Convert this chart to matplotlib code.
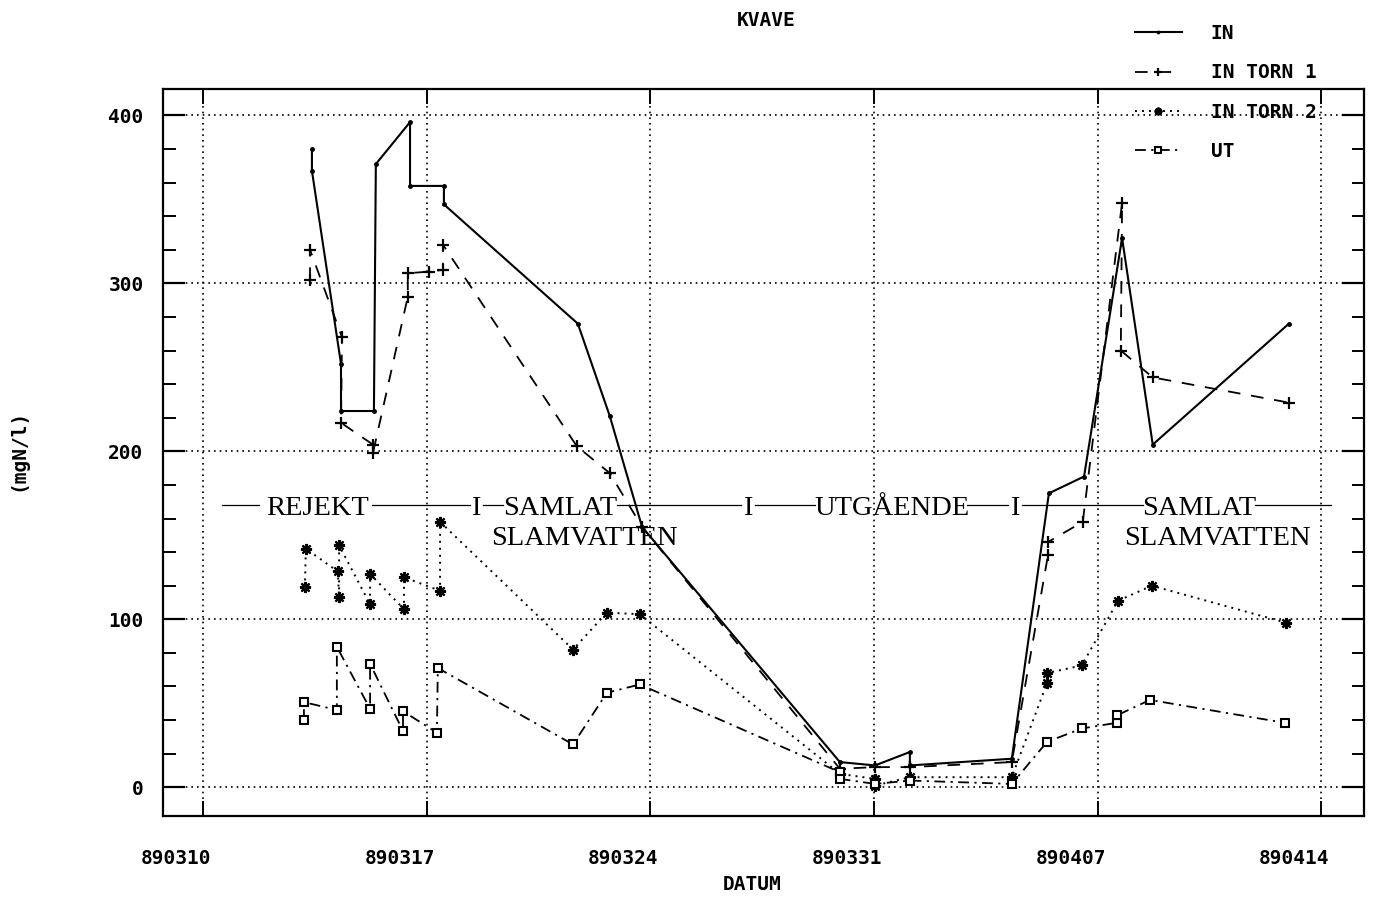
import matplotlib
matplotlib.use("Agg")
import matplotlib.pyplot as plt
import matplotlib.transforms as mtransforms
from matplotlib.ticker import MultipleLocator, FixedLocator

# Days counted from 890310
in_days = [3.41, 3.41, 4.32, 4.32, 5.35, 5.41, 6.48, 6.48, 7.54, 7.54, 11.73, 12.73,
           13.74, 19.93, 21.03, 22.12, 22.12, 25.31, 26.47, 27.57, 28.76, 29.72, 33.98]
in_vals = [380, 367, 252, 224, 224, 371, 396, 358, 358, 347, 276, 221,
           155, 15, 13, 21, 13, 17, 175, 185, 327, 204, 276]

torn1_days = [3.35, 3.35, 4.35, 4.32, 5.32, 5.32, 6.41, 6.41, 7.07, 7.51, 7.51,
              11.70, 12.73, 13.74, 19.93, 21.03, 22.12, 25.31, 26.44, 26.44, 27.53,
              28.76, 28.72, 29.72, 33.98]
torn1_vals = [302, 320, 268, 217, 204, 199, 292, 306, 307, 308, 323,
              203, 187, 155, 11, 12, 12, 15, 138, 146, 158,
              348, 260, 244, 229]

torn2_days = [3.19, 3.22, 4.22, 4.26, 4.26, 5.23, 5.23, 6.29, 6.29, 7.42, 7.42,
              11.58, 12.64, 13.67, 19.93, 21.03, 21.03, 22.12, 25.31, 26.41, 26.41,
              27.50, 28.63, 29.69, 33.89]
torn2_vals = [119, 142, 128.5, 113, 144, 109, 127, 106, 125, 117, 158,
              82, 104, 103, 8, 5, 1, 6, 6, 62, 68,
              72.5, 111, 120, 98]

ut_days = [3.16, 3.16, 4.19, 4.19, 5.23, 5.23, 6.26, 6.26, 7.32, 7.35,
           11.58, 12.64, 13.67, 19.93, 19.93, 21.03, 22.12, 25.31, 26.41, 27.50,
           28.60, 28.60, 29.63, 33.85]
ut_vals = [40, 50.7, 46, 83.6, 46.7, 73.5, 33.5, 45.3, 32.5, 71,
           25.5, 56.3, 61.2, 9, 5, 2, 4, 2, 27, 35,
           38.4, 42.8, 52, 38.4]

tick_days = [0, 7, 14, 21, 28, 35]
tick_labels = ["890310", "890317", "890324", "890331", "890407", "890414"]
y_ticks = [0, 100, 200, 300, 400]

MONO = "DejaVu Sans Mono"
SERIF = "Liberation Serif"

fig = plt.figure(figsize=(13.74, 8.98), dpi=100)
ax = fig.add_axes([163 / 1374, 1 - 816 / 898, (1364 - 163) / 1374, (816 - 89) / 898])

ax.set_xlim(-1.25, 36.33)
ax.set_ylim(-17.1, 415.7)

ax.plot(in_days, in_vals, color="black", lw=1.5, ls="-",
        marker="o", ms=2.5, label="IN", zorder=4)
ax.plot(torn1_days, torn1_vals, color="black", lw=1.3, ls=(0, (7, 6)),
        marker="+", ms=9, mew=1.6, label="IN TORN 1", zorder=4)
ax.plot(torn2_days, torn2_vals, color="black", lw=1.4, ls=(0, (1, 2.6)),
        marker=(8, 2, 0), ms=8, mew=1.6, label="IN TORN 2", zorder=4)
ax.plot(ut_days, ut_vals, color="black", lw=1.3, ls=(0, (6, 3, 1.2, 3)),
        marker="s", ms=6, mfc="white", mec="black", mew=1.5,
        label="UT", zorder=4)

# Axes frame, ticks and grid
for s in ax.spines.values():
    s.set_linewidth(1.6)
    s.set_color("black")

ax.xaxis.set_major_locator(FixedLocator(tick_days))
ax.set_xticklabels(tick_labels)
ax.yaxis.set_major_locator(FixedLocator(y_ticks))
ax.yaxis.set_minor_locator(MultipleLocator(20))
ax.tick_params(axis="x", which="major", direction="in", length=11, width=1.4,
               top=True, bottom=True, pad=24)
ax.tick_params(axis="y", which="major", direction="in", length=16, width=1.6,
               left=True, right=True, pad=14)
ax.tick_params(axis="y", which="minor", direction="in", length=9, width=1.4,
               left=True, right=True)
for lab in ax.get_xticklabels() + ax.get_yticklabels():
    lab.set_fontfamily(MONO)
    lab.set_fontweight("bold")
    lab.set_fontsize(14)

# shift date labels slightly to the left of their grid lines
shift = mtransforms.ScaledTranslation(-27 / 100, 0, fig.dpi_scale_trans)
for lab in ax.get_xticklabels():
    lab.set_transform(lab.get_transform() + shift)

ax.grid(True, which="major", color="black", lw=1.2, ls=(0, (1, 2.4)))
ax.set_axisbelow(True)

# Titles
fig.text(766 / 1374, 1 - 20 / 898, "KVAVE", ha="center", va="center",
         family=MONO, fontweight="bold", fontsize=14)
fig.text(752 / 1374, 1 - 885 / 898, "DATUM", ha="center", va="center",
         family=MONO, fontweight="bold", fontsize=14)
fig.text(18 / 1374, 1 - 450 / 898, "(mgN/l)", ha="center", va="center",
         rotation=90, family=MONO, fontweight="bold", fontsize=14)

# Sampling point annotation band
band_y = 168
base_y = 162.2
second_y = 144.3
for x0, x1 in [(0.6, 1.75), (5.3, 8.35), (8.75, 9.4), (12.95, 16.85),
               (17.27, 19.15), (23.9, 25.2), (25.63, 29.4), (32.92, 35.3)]:
    ax.plot([x0, x1], [band_y, band_y], color="black", lw=0.9, zorder=3)
for xc, yb, txt in [(3.57, base_y, "REJEKT"), (8.55, base_y, "I"),
                    (11.17, base_y, "SAMLAT"), (11.95, second_y, "SLAMVATTEN"),
                    (17.05, base_y, "I"), (21.56, base_y, "UTGÅENDE"),
                    (25.41, base_y, "I"), (31.16, base_y, "SAMLAT"),
                    (31.73, second_y, "SLAMVATTEN")]:
    ax.text(xc, yb, txt, ha="center", va="baseline", family=SERIF,
            fontsize=20.5, zorder=3)

leg = ax.legend(loc="upper left", bbox_to_anchor=(1135 / 1374, 1 - 24 / 898),
                bbox_transform=fig.transFigure, frameon=False, numpoints=1,
                handlelength=2.4, handletextpad=1.5, labelspacing=1.05,
                markerscale=0.7, borderpad=0, borderaxespad=0,
                prop={"family": MONO, "weight": "bold", "size": 14})
leg.set_zorder(6)

fig.savefig("out.png", dpi=100)
